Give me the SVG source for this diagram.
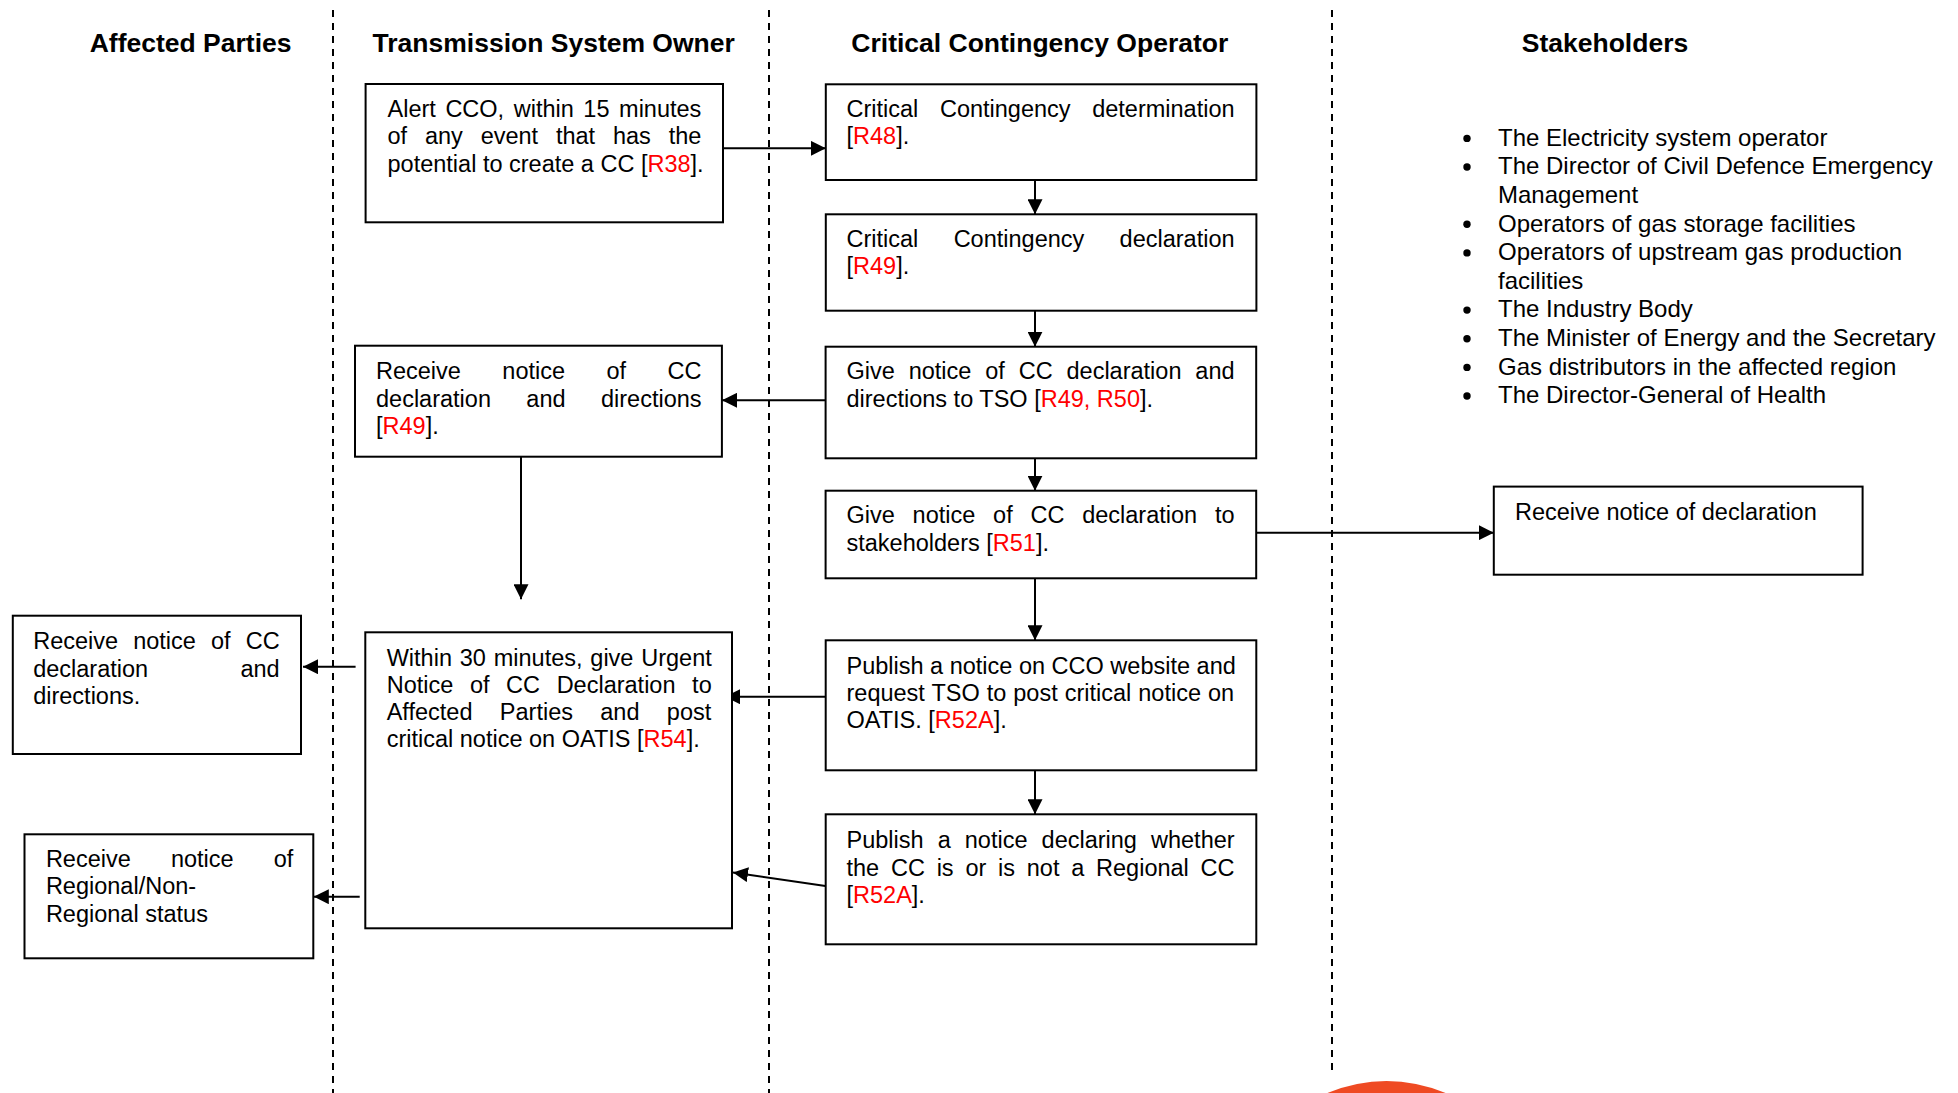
<svg xmlns="http://www.w3.org/2000/svg" width="1958" height="1093" viewBox="0 0 1958 1093">
<style>
.bg{fill:#fff}
.box{fill:#fff;stroke:#000;stroke-width:2}
.t{font-family:"Liberation Sans",Arial,sans-serif;font-size:23.5px;fill:#000}
.l{font-family:"Liberation Sans",Arial,sans-serif;font-size:24px;fill:#000}
.h{font-family:"Liberation Sans",Arial,sans-serif;font-size:26.5px;font-weight:bold;fill:#000;text-anchor:middle}
.r{fill:#ff0000}
.lane{stroke:#000;stroke-width:2;stroke-dasharray:7 6;fill:none}
.c{stroke:#000;stroke-width:2;fill:none;marker-end:url(#ah)}
.e{text-anchor:end}
</style>
<defs>
<marker id="ah" viewBox="0 0 15 15" markerWidth="15" markerHeight="15" refX="15" refY="7.5" orient="auto" markerUnits="userSpaceOnUse">
<path d="M0,0 L15,7.5 L0,15 z" fill="#000"/>
</marker>
</defs>
<rect class="bg" x="0" y="0" width="1958" height="1093"/>

<g id="lanes">
<line class="lane" x1="333" y1="10" x2="333" y2="1093"/>
<line class="lane" x1="769" y1="10" x2="769" y2="1093"/>
<line class="lane" x1="1332" y1="10" x2="1332" y2="1076"/>
</g>

<g id="headers">
<text class="h" x="190.6" y="51.7">Affected Parties</text>
<text class="h" x="553.7" y="51.7">Transmission System Owner</text>
<text class="h" x="1039.8" y="51.7">Critical Contingency Operator</text>
<text class="h" x="1605" y="51.7">Stakeholders</text>
</g>

<g id="connectors">
<line class="c" x1="723" y1="148.3" x2="825.8" y2="148.3"/>
<line class="c" x1="1035" y1="180" x2="1035" y2="214.3"/>
<line class="c" x1="1035" y1="310.7" x2="1035" y2="346.7"/>
<line class="c" x1="825.6" y1="400.3" x2="722" y2="400.3"/>
<line class="c" x1="1035" y1="458.3" x2="1035" y2="490.7"/>
<line class="c" x1="1256" y1="532.7" x2="1493.8" y2="532.7"/>
<line class="c" x1="1035" y1="578.3" x2="1035" y2="640.3"/>
<line class="c" x1="1035" y1="770.3" x2="1035" y2="814.3"/>
<line class="c" x1="521" y1="456.7" x2="521" y2="599.3"/>
<line class="c" x1="825.7" y1="696.7" x2="725" y2="696.7"/>
<line class="c" x1="825.5" y1="886" x2="733" y2="872.5"/>
<line class="c" x1="355.6" y1="666.7" x2="303" y2="666.7"/>
<line class="c" x1="359.7" y1="896.7" x2="313.8" y2="896.7"/>
</g>

<g id="tso-alert">
<rect class="box" x="365.6" y="84" width="357.4" height="138.3"/>
<text class="t" x="387.5" y="116.7" style="word-spacing:3.04px">Alert CCO, within 15 minutes</text>
<text class="t" x="387.5" y="144.3" style="word-spacing:11.29px">of any event that has the</text>
<text class="t" x="387.5" y="172.3">potential to create a CC [<tspan class="r">R38</tspan>].</text>
</g>

<g id="cco-determination">
<rect class="box" x="825.8" y="84.3" width="430.6" height="95.7"/>
<text class="t" x="846.5" y="116.7" style="word-spacing:15.07px">Critical Contingency determination</text>
<text class="t" x="846.5" y="144.3">[<tspan class="r">R48</tspan>].</text>
</g>

<g id="cco-declaration">
<rect class="box" x="825.8" y="214.3" width="430.6" height="96.4"/>
<text class="t" x="846.5" y="246.7" style="word-spacing:28.8px">Critical Contingency declaration</text>
<text class="t" x="846.5" y="274.3">[<tspan class="r">R49</tspan>].</text>
</g>

<g id="cco-notice-tso">
<rect class="box" x="825.6" y="346.7" width="430.6" height="111.6"/>
<text class="t" x="846.5" y="379.3" style="word-spacing:7.33px">Give notice of CC declaration and</text>
<text class="t" x="846.5" y="406.7">directions to TSO [<tspan class="r">R49, R50</tspan>].</text>
</g>

<g id="tso-receive">
<rect class="box" x="355" y="345.7" width="366.9" height="111"/>
<text class="t" x="376" y="379.3" style="word-spacing:34.93px">Receive notice of CC</text>
<text class="t" x="376" y="406.7" style="word-spacing:28.87px">declaration and directions</text>
<text class="t" x="376" y="434">[<tspan class="r">R49</tspan>].</text>
</g>

<g id="cco-notice-stakeholders">
<rect class="box" x="825.6" y="490.7" width="430.6" height="87.6"/>
<text class="t" x="846.5" y="523.3" style="word-spacing:11.25px">Give notice of CC declaration to</text>
<text class="t" x="846.5" y="550.5">stakeholders [<tspan class="r">R51</tspan>].</text>
</g>

<g id="stakeholder-receive">
<rect class="box" x="1493.8" y="486.6" width="368.8" height="88.1"/>
<text class="t" x="1515" y="519.7">Receive notice of declaration</text>
</g>

<g id="stakeholder-list">
<circle cx="1467" cy="138.4" r="3.7"/>
<text class="l" x="1498" y="145.7">The Electricity system operator</text>
<circle cx="1467" cy="167" r="3.7"/>
<text class="l" x="1498" y="174.3">The Director of Civil Defence Emergency</text>
<text class="l" x="1498" y="202.9">Management</text>
<circle cx="1467" cy="224.3" r="3.7"/>
<text class="l" x="1498" y="231.6">Operators of gas storage facilities</text>
<circle cx="1467" cy="252.9" r="3.7"/>
<text class="l" x="1498" y="260.2">Operators of upstream gas production</text>
<text class="l" x="1498" y="288.8">facilities</text>
<circle cx="1467" cy="310.1" r="3.7"/>
<text class="l" x="1498" y="317.4">The Industry Body</text>
<circle cx="1467" cy="338.7" r="3.7"/>
<text class="l" x="1498" y="346">The Minister of Energy and the Secretary</text>
<circle cx="1467" cy="367.4" r="3.7"/>
<text class="l" x="1498" y="374.7">Gas distributors in the affected region</text>
<circle cx="1467" cy="396" r="3.7"/>
<text class="l" x="1498" y="403.3">The Director-General of Health</text>
</g>

<g id="cco-publish-website">
<rect class="box" x="825.7" y="640.3" width="430.6" height="130"/>
<text class="t" x="846.5" y="674">Publish a notice on CCO website and</text>
<text class="t" x="846.5" y="701" style="word-spacing:0.45px">request TSO to post critical notice on</text>
<text class="t" x="846.5" y="728.3">OATIS. [<tspan class="r">R52A</tspan>].</text>
</g>

<g id="cco-publish-regional">
<rect class="box" x="825.7" y="814.3" width="430.6" height="130"/>
<text class="t" x="846.5" y="848.3" style="word-spacing:7.54px">Publish a notice declaring whether</text>
<text class="t" x="846.5" y="875.5" style="word-spacing:5.24px">the CC is or is not a Regional CC</text>
<text class="t" x="846.5" y="902.7">[<tspan class="r">R52A</tspan>].</text>
</g>

<g id="tso-urgent-notice">
<rect class="box" x="365.3" y="632.3" width="366.7" height="296"/>
<text class="t" x="386.7" y="665.7" style="word-spacing:1.27px">Within 30 minutes, give Urgent</text>
<text class="t" x="386.7" y="692.9" style="word-spacing:10.07px">Notice of CC Declaration to</text>
<text class="t" x="386.7" y="720.1" style="word-spacing:20.8px">Affected Parties and post</text>
<text class="t" x="386.7" y="747.3">critical notice on OATIS [<tspan class="r">R54</tspan>].</text>
</g>

<g id="affected-receive-declaration">
<rect class="box" x="12.8" y="615.7" width="288.2" height="138.3"/>
<text class="t" x="33.2" y="649.3" style="word-spacing:8.57px">Receive notice of CC</text>
<text class="t" x="33.2" y="676.7">declaration</text>
<text class="t e" x="279.6" y="676.7">and</text>
<text class="t" x="33.2" y="704.3">directions.</text>
</g>

<g id="affected-receive-regional">
<rect class="box" x="24.5" y="834.3" width="288.8" height="124"/>
<text class="t" x="45.9" y="866.7" style="word-spacing:33.6px">Receive notice of</text>
<text class="t" x="45.9" y="894.3">Regional/Non-</text>
<text class="t" x="45.9" y="921.7">Regional status</text>
</g>

<circle cx="1386.5" cy="1232" r="151" fill="#ef4a23"/>
</svg>
